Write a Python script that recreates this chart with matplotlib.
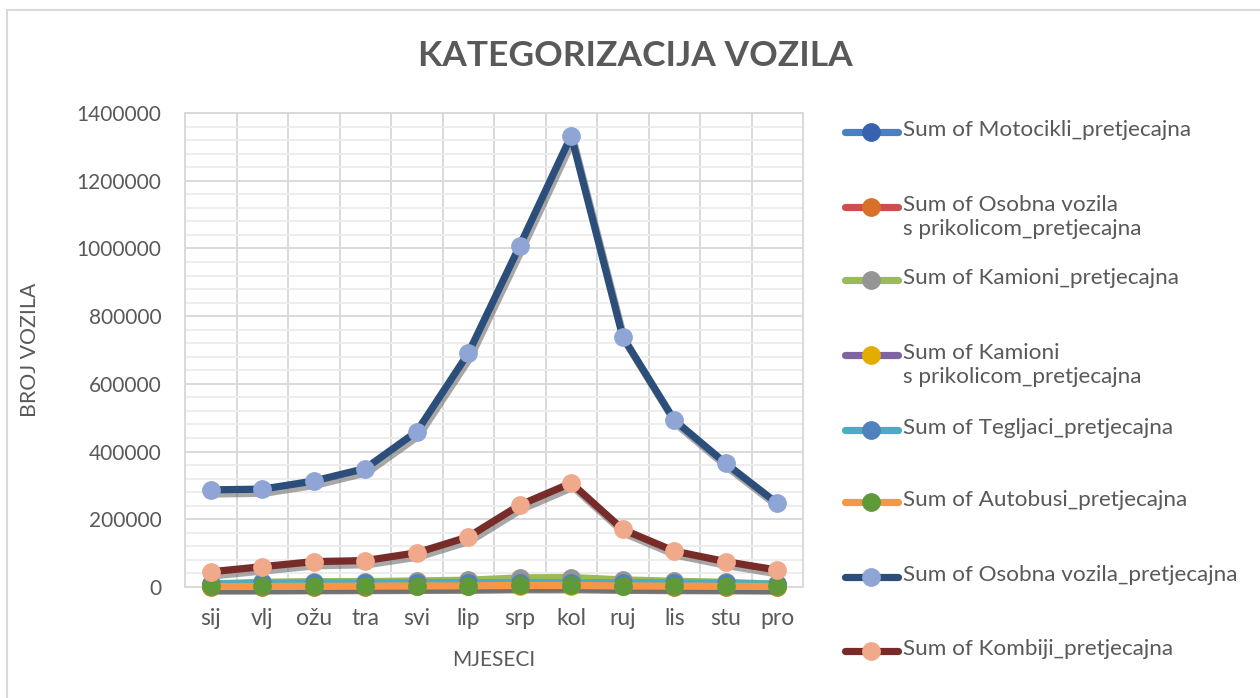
import matplotlib.pyplot as plt
import matplotlib.patheffects as pe
from matplotlib.lines import Line2D
from matplotlib.patches import Rectangle
from matplotlib.ticker import MultipleLocator, FixedLocator

months = ["sij", "vlj", "ožu", "tra", "svi", "lip", "srp", "kol", "ruj", "lis", "stu", "pro"]

motocikli = [1500, 1800, 2500, 3500, 5000, 6500, 8500, 9000, 6000, 4000, 2500, 1500]
osobna_prikolica = [500, 600, 900, 1200, 2000, 3500, 6000, 7000, 2500, 1200, 700, 500]
kamioni = [9000, 14000, 16000, 16000, 18000, 20000, 27000, 28000, 21000, 17000, 14000, 8000]
kamioni_prikolica = [2000, 2500, 3000, 3000, 3500, 3500, 4000, 4000, 3500, 3000, 2500, 1500]
tegljaci = [9000, 11000, 12000, 12000, 13000, 13000, 13000, 13000, 13000, 12000, 11000, 8000]
autobusi = [1500, 1500, 2000, 2500, 3000, 3500, 4500, 4500, 3000, 2500, 2000, 1500]
osobna_vozila = [287000, 289000, 313000, 350000, 459000, 690000, 1008000, 1333000, 739000, 493000, 365000, 247000]
kombiji = [45000, 60000, 75000, 78000, 101000, 148000, 242000, 307000, 170000, 106000, 75000, 50000]

# (label, values, line colour, marker colour)
series = [
    ("Sum of Motocikli_pretjecajna", motocikli, "#4A7FC1", "#3762B0"),
    ("Sum of Osobna vozila\ns prikolicom_pretjecajna", osobna_prikolica, "#C9504C", "#D9702A"),
    ("Sum of Kamioni_pretjecajna", kamioni, "#9BBB59", "#959595"),
    ("Sum of Kamioni\ns prikolicom_pretjecajna", kamioni_prikolica, "#8064A2", "#E5AC00"),
    ("Sum of Tegljaci_pretjecajna", tegljaci, "#4BACC6", "#4F81BD"),
    ("Sum of Autobusi_pretjecajna", autobusi, "#F79646", "#5E9A3A"),
    ("Sum of Osobna vozila_pretjecajna", osobna_vozila, "#2B4E7A", "#8EA5D6"),
    ("Sum of Kombiji_pretjecajna", kombiji, "#772C29", "#F0A98A"),
]

text_color = "#595959"
grid_major = "#D9D9D9"
grid_minor = "#EDEDED"
plt.rcParams["font.family"] = ["Lato", "DejaVu Sans"]

fig = plt.figure(figsize=(12.6, 6.98), dpi=100)
ax = fig.add_axes([185 / 1260, 1 - 587 / 698, 618 / 1260, 474 / 698])

x = list(range(len(months)))
shadow = [pe.SimpleLineShadow(offset=(1.5, -3), shadow_color="#6F6F6F", alpha=0.6), pe.Normal()]
z = 3
for label, vals, lc, mc in series:
    ax.plot(x, vals, color=lc, lw=5.2, solid_capstyle="round",
            path_effects=shadow, zorder=z, clip_on=False)
    ax.plot(x, vals, lw=0, marker="o", ms=12.5, markerfacecolor=mc,
            markeredgecolor=mc, zorder=z + 0.5, clip_on=False)
    z += 1

ax.set_xlim(-0.5, len(months) - 0.5)
ax.set_ylim(0, 1400000)
ax.yaxis.set_major_locator(MultipleLocator(200000))
ax.yaxis.set_minor_locator(MultipleLocator(40000))
ax.set_xticks(x)
ax.set_xticklabels(months)
ax.xaxis.set_minor_locator(FixedLocator([i + 0.5 for i in range(len(months) - 1)]))
ax.yaxis.set_major_formatter(plt.FuncFormatter(lambda v, p: f"{int(v)}"))

ax.grid(which="major", axis="y", color=grid_major, lw=1.4, zorder=0)
ax.grid(which="minor", axis="y", color=grid_minor, lw=1.4, zorder=0)
ax.grid(which="minor", axis="x", color=grid_major, lw=1.4, zorder=0)
ax.set_axisbelow(True)

ax.tick_params(which="both", length=0)
ax.tick_params(axis="y", pad=17, labelsize=15, labelcolor=text_color)
ax.tick_params(axis="x", pad=15, labelsize=16.5, labelcolor=text_color)
for side, sp in ax.spines.items():
    sp.set_color(grid_major)
    sp.set_linewidth(1.4)

ax.set_xlabel("MJESECI", fontsize=15, color=text_color, labelpad=15)
ax.set_ylabel("BROJ VOZILA", fontsize=15.3, color=text_color, labelpad=26)

fig.text(635 / 1260, 1 - 56 / 698, "KATEGORIZACIJA VOZILA", ha="center", va="center",
         fontsize=25.5, fontweight="bold", color=text_color)

# legend, drawn entry by entry so the handle sits on the first text line
legend_rows = [132, 207, 280, 355, 430, 502, 577, 651]
for (label, vals, lc, mc), row in zip(series, legend_rows):
    yf = 1 - row / 698
    fig.add_artist(Line2D([845 / 1260, 898 / 1260], [yf, yf], transform=fig.transFigure,
                          color=lc, lw=5.2, solid_capstyle="round"))
    fig.add_artist(Line2D([871 / 1260], [yf], transform=fig.transFigure, marker="o",
                          ms=12.5, color=mc, lw=0))
    fig.text(903 / 1260, yf + 12 / 698, label, ha="left", va="top", fontsize=16.2,
             color=text_color, linespacing=1.28)

fig.add_artist(Rectangle((7 / 1260, -0.05), 1.1, 0.99 + 0.05 - 7 / 698 + 0.005,
                         transform=fig.transFigure, fill=False, edgecolor=grid_major, lw=1.5))

fig.savefig("out.png", dpi=100)
